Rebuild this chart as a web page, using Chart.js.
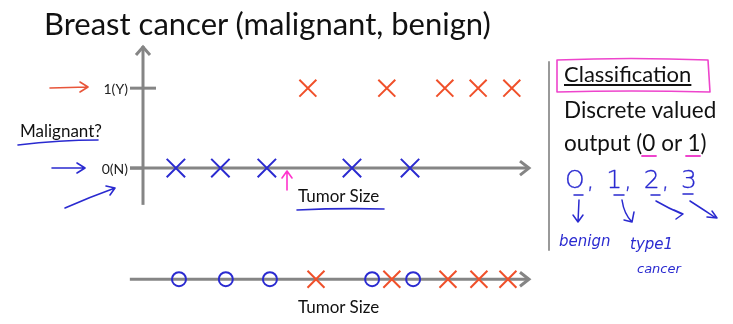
<!DOCTYPE html>
<html><head><meta charset="utf-8">
<script src="https://cdn.jsdelivr.net/npm/chart.js@4/dist/chart.umd.min.js"></script>
<style>
html,body{margin:0;padding:0;background:#fff;}
#wrap{position:relative;width:733px;height:324px;overflow:hidden;font-family:Lato,"Open Sans",sans-serif;color:#111;}
#c{position:absolute;left:0;top:0;}
#deco{position:absolute;left:0;top:0;}
.t{position:absolute;white-space:nowrap;line-height:1;}
</style></head><body>
<div id="wrap">
<canvas id="c" width="733" height="324"></canvas>
<svg id="deco" width="733" height="324" viewBox="0 0 733 324" fill="none" stroke-linecap="round" stroke-linejoin="round">
  <!-- left annotations -->
  <path d="M50 88 L88 87 M80 82 L88 87 L80 92" stroke="#e8553a" stroke-width="1.6"/>
  <path d="M52 168 L85 168 M77 163 L85 168 L77 173" stroke="#2a2ad0" stroke-width="1.6"/>
  <path d="M65 208 Q90 197 115 188 M106 186 L115 188 L110 195" stroke="#2a2ad0" stroke-width="1.6"/>
  <path d="M18 145 Q60 140 98 140" stroke="#2a2ad0" stroke-width="1.6"/>
  <path d="M287 190 L287 172 M282 178 L287 171 L292 178" stroke="#ff33cc" stroke-width="1.6"/>
  <path d="M297 210 Q340 208 384 209" stroke="#2a2ad0" stroke-width="1.6"/>
  <!-- right panel -->
  <path d="M549 62 L549 250" stroke="#999" stroke-width="2"/>
  <path d="M557 60 Q630 57 708 60 L710 92 Q630 90 557 92 Z" stroke="#ee44cc" stroke-width="1.6"/>
  <path d="M642 156 L656 156 M686 156 L700 156" stroke="#ee44cc" stroke-width="1.8"/>
  <path d="M574 195 L583 195 M614 195 L624 195 M651 195 L660 195 M683 194 L693 194" stroke="#2a2ad0" stroke-width="1.5"/>
  <path d="M579 200 L578 222 M573 215 L578 222 L583 215" stroke="#2a2ad0" stroke-width="1.5"/>
  <path d="M622 200 Q624 214 632 222 M624 220 L632 222 L634 212" stroke="#2a2ad0" stroke-width="1.5"/>
  <path d="M656 201 Q668 208 682 214 M674 210 L683 214 L676 219" stroke="#2a2ad0" stroke-width="1.5"/>
  <path d="M690 201 Q704 210 716 218 M707 217 L717 218 L712 211" stroke="#2a2ad0" stroke-width="1.5"/>
  <text x="565" y="188" font-family="DejaVu Sans" font-weight="300" font-size="25" fill="#2a2ad0" stroke="#2a2ad0" stroke-width="0.3" textLength="132">O, 1, 2, 3</text>
  <text x="559" y="246" font-family="DejaVu Sans" font-style="italic" font-size="15" fill="#2a2ad0" stroke="none">benign</text>
  <text x="630" y="249" font-family="DejaVu Sans" font-style="italic" font-size="15" fill="#2a2ad0" stroke="none">type1</text>
  <text x="637" y="273" font-family="DejaVu Sans" font-style="italic" font-size="13" fill="#2a2ad0" stroke="none">cancer</text>
</svg>
<div class="t" id="title" style="left:44px;top:8px;font-size:31px;">Breast cancer (malignant, benign)</div>
<div class="t" style="left:20px;top:122px;font-size:17px;">Malignant?</div>
<div class="t" style="left:298px;top:187px;font-size:17px;">Tumor Size</div>
<div class="t" style="left:298px;top:298px;font-size:17px;">Tumor Size</div>
<div class="t" style="left:564px;top:63px;font-size:22px;text-decoration:underline;">Classification</div>
<div class="t" style="left:564px;top:99px;font-size:22.5px;">Discrete valued</div>
<div class="t" style="left:564px;top:132px;font-size:22.5px;">output (0 or 1)</div>
</div>
<script>
// ---- data ----
const benignSize    = [0.85, 2.0, 3.2, 5.4, 6.9];     // blue X on y = 0
const malignantSize = [4.26, 6.3, 7.8, 8.66, 9.53];   // red X on y = 1
const lineBenign    = [0.93, 2.14, 3.28, 5.92, 6.98]; // blue O on 1-D line
const lineMalignant = [4.47, 6.43, 7.88, 8.68, 9.43]; // red X on 1-D line
const yTickValues = [0, 1];
const yTickLabels = ['0(N)', '1(Y)'];
const lineY = -1.39;       // level of the one-dimensional number line
const xMin = 0, xMax = 10; // tumor size axis range
const yMin = -1.525, yMax = 1.54;
const yAxisBottom = -0.46;
const lineStart = -0.34;

const BLUE = '#2a2ad0', RED = '#f0502a', GREY = '#858585';

function pts(xs, yv){ return xs.map(v => ({x: v, y: yv})); }

const axisPlugin = {
  id: 'handAxes',
  beforeDatasetsDraw(chart){
    const {ctx, scales:{x, y}} = chart;
    const X = v => x.getPixelForValue(v), Y = v => y.getPixelForValue(v);
    const x0 = X(0), xe = X(xMax);
    ctx.save();
    ctx.strokeStyle = GREY; ctx.lineWidth = 3; ctx.lineCap = 'butt';
    const seg = (a,b,c,d) => { ctx.beginPath(); ctx.moveTo(a,b); ctx.lineTo(c,d); ctx.stroke(); };
    // vertical axis with arrow
    seg(x0, Y(yAxisBottom), x0, Y(yMax) + 1);
    ctx.lineJoin = 'miter';
    ctx.beginPath(); ctx.moveTo(x0 - 7, Y(yMax) + 10); ctx.lineTo(x0, Y(yMax) + 2); ctx.lineTo(x0 + 7, Y(yMax) + 10); ctx.stroke();
    // horizontal axis
    seg(x0 - 13, Y(0), xe - 1, Y(0));
    ctx.beginPath(); ctx.moveTo(xe - 10, Y(0) - 7); ctx.lineTo(xe - 1, Y(0)); ctx.lineTo(xe - 10, Y(0) + 7); ctx.stroke();
    // ticks
    yTickValues.forEach(v => seg(x0 - 13, Y(v), x0 + (v === 0 ? 0 : 13), Y(v)));
    // 1-D number line
    seg(X(lineStart), Y(lineY), xe - 1, Y(lineY));
    ctx.beginPath(); ctx.moveTo(xe - 10, Y(lineY) - 7); ctx.lineTo(xe - 1, Y(lineY)); ctx.lineTo(xe - 10, Y(lineY) + 7); ctx.stroke();
    // tick labels
    ctx.fillStyle = '#222'; ctx.font = '14px Lato, sans-serif';
    ctx.textAlign = 'right'; ctx.textBaseline = 'middle';
    yTickValues.forEach((v, i) => ctx.fillText(yTickLabels[i], x0 - 15, Y(v) + 1));
    ctx.restore();
  }
};

new Chart(document.getElementById('c'), {
  type: 'scatter',
  data: {
    datasets: [
      {label:'benign', data: pts(benignSize, 0), pointStyle:'crossRot', radius:13, borderColor:BLUE, borderWidth:2},
      {label:'malignant', data: pts(malignantSize, 1), pointStyle:'crossRot', radius:12, borderColor:RED, borderWidth:2},
      {label:'benign 1D', data: pts(lineBenign, lineY), pointStyle:'circle', radius:7, borderColor:BLUE, backgroundColor:'rgba(0,0,0,0)', borderWidth:2},
      {label:'malignant 1D', data: pts(lineMalignant, lineY), pointStyle:'crossRot', radius:12, borderColor:RED, borderWidth:2}
    ]
  },
  options: {
    responsive:false, animation:false, devicePixelRatio:1,
    layout:{padding:{left:143, right:203, top:45, bottom:34}},
    scales:{
      x:{type:'linear', min:xMin, max:xMax, display:false},
      y:{type:'linear', min:yMin, max:yMax, display:false}
    },
    plugins:{legend:{display:false}, tooltip:{enabled:false}},
    elements:{point:{hoverRadius:12}}
  },
  plugins:[axisPlugin]
});
</script>
</body></html>
